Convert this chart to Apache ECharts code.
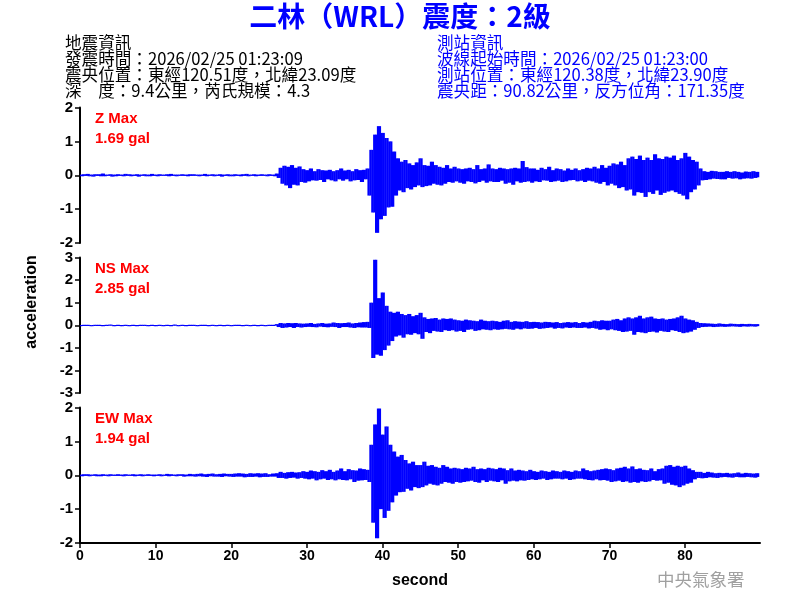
<!DOCTYPE html>
<html>
<head>
<meta charset="utf-8">
<script src="https://cdn.jsdelivr.net/npm/echarts@6/dist/echarts.min.js"></script>
<style>html,body{margin:0;padding:0;background:#fff;}#c{width:800px;height:600px;}</style>
</head>
<body>
<div id="c"></div>
<script>
// ---- data ----
const dt = 0.25; // seconds between samples
const xTicks = [0, 10, 20, 30, 40, 50, 60, 70, 80];
const componentNames = ['Z', 'NS', 'EW'];
const maxLabels = ['1.69 gal', '2.85 gal', '1.94 gal'];
const yRanges = [[-2, 2], [-3, 3], [-2, 2]];

const zTrace = [
0.02,-0.03,0.03,-0.02,0.04,-0.03,0.02,-0.04,0.03,-0.02,0.03,-0.03,0.05,-0.03,0.02,-0.02,0.03,-0.04,0.02,-0.03,
0.03,-0.02,0.02,-0.03,0.04,-0.02,0.03,-0.03,0.02,-0.02,0.03,-0.04,0.02,-0.02,0.03,-0.03,0.02,-0.03,0.04,-0.02,
0.02,-0.03,0.03,-0.02,0.02,-0.02,0.03,-0.03,0.04,-0.02,0.02,-0.03,0.02,-0.02,0.03,-0.02,0.02,-0.03,0.03,-0.02,
0.03,-0.02,0.02,-0.03,0.02,-0.02,0.04,-0.03,0.02,-0.02,0.03,-0.03,0.02,-0.02,0.03,-0.04,0.02,-0.02,0.03,-0.03,
0.02,-0.03,0.03,-0.02,0.02,-0.03,0.03,-0.02,0.04,-0.03,0.02,-0.02,0.03,-0.03,0.02,-0.02,0.03,-0.02,0.02,-0.03,
0.03,-0.02,0.02,-0.03,0.05,-0.08,0.22,-0.25,0.28,-0.3,0.25,-0.38,0.3,-0.28,0.22,-0.3,0.26,-0.2,0.18,-0.22,
0.15,-0.18,0.2,-0.15,0.12,-0.16,0.18,-0.14,0.15,-0.2,0.14,-0.12,0.16,-0.15,0.12,-0.18,0.15,-0.12,0.2,-0.16,
0.14,-0.12,0.16,-0.18,0.12,-0.15,0.18,-0.14,0.15,-0.2,0.16,-0.12,0.2,-0.6,0.75,-1.1,1.2,-1.7,1.45,-1.3,
1.25,-1.2,1.1,-0.95,1.0,-0.93,0.7,-0.6,0.5,-0.45,0.4,-0.5,0.45,-0.38,0.35,-0.42,0.3,-0.35,0.38,-0.3,
0.5,-0.35,0.3,-0.32,0.28,-0.3,0.4,-0.25,0.3,-0.28,0.25,-0.3,0.22,-0.25,0.3,-0.2,0.2,-0.22,0.25,-0.18,
0.2,-0.22,0.18,-0.25,0.2,-0.18,0.22,-0.2,0.18,-0.24,0.3,-0.2,0.18,-0.16,0.2,-0.22,0.32,-0.18,0.2,-0.2,
0.18,-0.2,0.22,-0.16,0.2,-0.25,0.18,-0.22,0.2,-0.28,0.22,-0.18,0.2,-0.22,0.42,-0.2,0.24,-0.18,0.2,-0.22,
0.2,-0.18,0.16,-0.2,0.22,-0.15,0.18,-0.16,0.25,-0.2,0.15,-0.18,0.2,-0.16,0.18,-0.2,0.14,-0.18,0.2,-0.15,
0.16,-0.14,0.2,-0.18,0.15,-0.16,0.18,-0.2,0.22,-0.16,0.2,-0.18,0.25,-0.22,0.2,-0.25,0.3,-0.2,0.22,-0.3,
0.28,-0.25,0.35,-0.3,0.32,-0.38,0.4,-0.35,0.3,-0.45,0.5,-0.42,0.55,-0.6,0.48,-0.5,0.58,-0.52,0.45,-0.64,
0.52,-0.5,0.45,-0.55,0.62,-0.45,0.5,-0.58,0.48,-0.52,0.55,-0.48,0.52,-0.45,0.58,-0.5,0.45,-0.55,0.5,-0.6,
0.66,-0.71,0.55,-0.5,0.45,-0.42,0.4,-0.3,0.2,-0.15,0.12,-0.14,0.1,-0.12,0.13,-0.1,0.12,-0.11,0.1,-0.12,
0.1,-0.12,0.12,-0.08,0.1,-0.1,0.12,-0.09,0.1,-0.12,0.08,-0.1,0.11,-0.09,0.1,-0.1,0.12,-0.08,0.1,-0.06
];

const nsTrace = [
0.01,-0.02,0.02,-0.01,0.02,-0.02,0.01,-0.02,0.02,-0.01,0.02,-0.02,0.01,-0.01,0.02,-0.02,0.03,-0.01,0.01,-0.02,
0.02,-0.01,0.01,-0.02,0.02,-0.02,0.01,-0.01,0.02,-0.03,0.01,-0.02,0.02,-0.01,0.02,-0.02,0.01,-0.02,0.02,-0.01,
0.01,-0.02,0.02,-0.01,0.01,-0.01,0.02,-0.02,0.01,-0.02,0.03,-0.01,0.01,-0.02,0.02,-0.01,0.01,-0.02,0.02,-0.02,
0.02,-0.01,0.01,-0.02,0.02,-0.01,0.02,-0.02,0.01,-0.01,0.02,-0.02,0.01,-0.02,0.02,-0.01,0.01,-0.02,0.02,-0.01,
0.01,-0.02,0.02,-0.01,0.02,-0.02,0.01,-0.02,0.02,-0.01,0.01,-0.02,0.02,-0.02,0.01,-0.01,0.02,-0.02,0.01,-0.02,
0.02,-0.01,0.02,-0.02,0.05,-0.08,0.1,-0.12,0.08,-0.1,0.1,-0.08,0.09,-0.12,0.1,-0.08,0.08,-0.1,0.07,-0.08,
0.08,-0.07,0.1,-0.08,0.06,-0.09,0.08,-0.06,0.1,-0.08,0.07,-0.09,0.08,-0.07,0.12,-0.08,0.1,-0.12,0.09,-0.08,
0.1,-0.08,0.12,-0.1,0.08,-0.12,0.1,-0.09,0.12,-0.1,0.14,-0.1,0.15,-0.12,1.0,-1.45,2.9,-1.3,1.2,-1.35,
1.45,-1.1,0.86,-0.9,0.6,-0.7,0.55,-0.5,0.6,-0.45,0.5,-0.55,0.45,-0.4,0.5,-0.42,0.4,-0.35,0.45,-0.4,
0.55,-0.6,0.35,-0.3,0.28,-0.35,0.3,-0.25,0.32,-0.28,0.25,-0.3,0.3,-0.22,0.28,-0.25,0.3,-0.22,0.25,-0.28,
0.22,-0.25,0.2,-0.3,0.25,-0.2,0.22,-0.18,0.2,-0.25,0.18,-0.22,0.25,-0.18,0.2,-0.2,0.18,-0.22,0.2,-0.18,
0.18,-0.2,0.15,-0.18,0.2,-0.16,0.22,-0.18,0.15,-0.2,0.18,-0.15,0.16,-0.18,0.15,-0.14,0.18,-0.16,0.14,-0.15,
0.15,-0.12,0.14,-0.16,0.12,-0.14,0.15,-0.12,0.14,-0.1,0.12,-0.15,0.14,-0.12,0.1,-0.14,0.12,-0.1,0.14,-0.12,
0.12,-0.1,0.14,-0.12,0.1,-0.12,0.14,-0.1,0.12,-0.14,0.15,-0.12,0.2,-0.15,0.18,-0.2,0.22,-0.18,0.2,-0.22,
0.2,-0.18,0.25,-0.22,0.28,-0.25,0.22,-0.3,0.3,-0.28,0.35,-0.25,0.3,-0.42,0.35,-0.3,0.42,-0.32,0.3,-0.35,
0.35,-0.3,0.38,-0.28,0.3,-0.32,0.28,-0.25,0.3,-0.28,0.25,-0.3,0.28,-0.22,0.3,-0.25,0.35,-0.3,0.42,-0.35,
0.3,-0.32,0.25,-0.28,0.22,-0.2,0.15,-0.12,0.1,-0.08,0.09,-0.07,0.08,-0.06,0.07,-0.08,0.06,-0.07,0.08,-0.06,
0.06,-0.07,0.05,-0.06,0.07,-0.05,0.06,-0.06,0.05,-0.07,0.06,-0.05,0.05,-0.06,0.06,-0.05,0.05,-0.06,0.05,-0.04
];

const ewTrace = [
0.02,-0.03,0.03,-0.02,0.03,-0.03,0.02,-0.02,0.03,-0.03,0.02,-0.03,0.03,-0.02,0.02,-0.03,0.03,-0.02,0.02,-0.02,
0.03,-0.02,0.02,-0.03,0.03,-0.02,0.02,-0.02,0.03,-0.03,0.02,-0.02,0.03,-0.03,0.02,-0.02,0.03,-0.02,0.02,-0.03,
0.02,-0.02,0.03,-0.03,0.02,-0.02,0.04,-0.03,0.03,-0.02,0.02,-0.03,0.03,-0.02,0.03,-0.04,0.02,-0.03,0.04,-0.03,
0.03,-0.04,0.04,-0.03,0.05,-0.04,0.03,-0.05,0.04,-0.03,0.05,-0.04,0.03,-0.04,0.04,-0.05,0.05,-0.03,0.04,-0.04,
0.04,-0.05,0.05,-0.04,0.06,-0.04,0.05,-0.06,0.04,-0.05,0.06,-0.05,0.05,-0.04,0.06,-0.06,0.05,-0.05,0.06,-0.05,
0.03,-0.04,0.05,-0.04,0.06,-0.08,0.1,-0.08,0.07,-0.1,0.09,-0.08,0.1,-0.07,0.08,-0.1,0.09,-0.08,0.12,-0.1,
0.1,-0.12,0.14,-0.1,0.12,-0.15,0.1,-0.12,0.15,-0.1,0.12,-0.14,0.16,-0.12,0.1,-0.15,0.14,-0.12,0.2,-0.14,
0.12,-0.15,0.18,-0.12,0.15,-0.2,0.14,-0.16,0.2,-0.15,0.18,-0.14,0.16,-0.2,0.9,-1.4,1.5,-1.86,1.97,-1.0,
1.2,-1.26,1.44,-1.05,0.9,-0.8,0.7,-0.6,0.55,-0.5,0.6,-0.49,0.45,-0.4,0.35,-0.45,0.4,-0.35,0.3,-0.38,
0.3,-0.35,0.4,-0.3,0.28,-0.25,0.3,-0.28,0.25,-0.3,0.22,-0.25,0.3,-0.2,0.25,-0.22,0.2,-0.25,0.22,-0.2,
0.2,-0.22,0.18,-0.2,0.22,-0.18,0.2,-0.16,0.25,-0.2,0.18,-0.22,0.2,-0.15,0.18,-0.2,0.22,-0.16,0.2,-0.18,
0.18,-0.2,0.22,-0.15,0.2,-0.25,0.15,-0.18,0.2,-0.16,0.14,-0.18,0.16,-0.15,0.14,-0.16,0.12,-0.14,0.16,-0.12,
0.12,-0.14,0.1,-0.12,0.14,-0.1,0.12,-0.14,0.1,-0.12,0.14,-0.1,0.12,-0.1,0.1,-0.12,0.14,-0.1,0.12,-0.14,
0.1,-0.12,0.14,-0.1,0.12,-0.1,0.2,-0.12,0.15,-0.14,0.12,-0.15,0.14,-0.12,0.16,-0.15,0.18,-0.14,0.2,-0.16,
0.18,-0.2,0.15,-0.18,0.2,-0.16,0.22,-0.2,0.25,-0.18,0.2,-0.22,0.26,-0.2,0.18,-0.22,0.2,-0.18,0.16,-0.2,
0.15,-0.18,0.2,-0.14,0.12,-0.16,0.18,-0.15,0.2,-0.25,0.28,-0.22,0.3,-0.28,0.25,-0.3,0.28,-0.35,0.25,-0.3,
0.28,-0.25,0.2,-0.22,0.15,-0.12,0.1,-0.08,0.1,-0.09,0.07,-0.08,0.1,-0.06,0.08,-0.07,0.06,-0.08,0.07,-0.06,
0.06,-0.05,0.07,-0.06,0.05,-0.07,0.06,-0.05,0.08,-0.06,0.05,-0.06,0.07,-0.05,0.06,-0.06,0.05,-0.07,0.06,-0.05
];

const traces = [zTrace, nsTrace, ewTrace];

const titleText = '二林（WRL）震度：2級';
const quakeInfo = ['地震資訊', '發震時間：2026/02/25 01:23:09', '震央位置：東經120.51度，北緯23.09度', '深　度：9.4公里，芮氏規模：4.3'];
const stationInfo = ['測站資訊', '波線起始時間：2026/02/25 01:23:00', '測站位置：東經120.38度，北緯23.90度', '震央距：90.82公里，反方位角：171.35度'];

// ---- chart ----
const CJK = '"Noto Sans CJK TC","Noto Sans CJK SC",sans-serif';
const LAT = '"Liberation Sans",Arial,sans-serif';
const gridTops = [107.5, 257.5, 407.5];
const gridH = 135.5;

const chart = echarts.init(document.getElementById('c'), null, {renderer: 'canvas'});

// each column spans the range between two consecutive samples
function renderColumn(params, api) {
  const t = api.value(0), a = api.value(1), b = api.value(2);
  const top = api.coord([t, Math.max(a, b)]);
  const bot = api.coord([t + dt, Math.min(a, b)]);
  return {
    type: 'rect',
    shape: {x: top[0], y: top[1], width: Math.max(bot[0] - top[0], 1) + 0.4, height: Math.max(bot[1] - top[1], 1.2)},
    style: {fill: '#0000ff'}
  };
}

const grids = [], xAxes = [], yAxes = [], series = [], titles = [];
for (let g = 0; g < 3; g++) {
  grids.push({left: 80, right: 40, top: gridTops[g], height: gridH});
  const last = g === 2;
  xAxes.push({
    type: 'value', gridIndex: g, min: 0, max: 89.9, interval: 10,
    axisLine: {show: last, onZero: false, lineStyle: {color: '#000', width: 2}},
    axisTick: {show: last, length: 5, lineStyle: {color: '#000', width: 1.5}},
    axisLabel: {show: last, color: '#000', fontFamily: LAT, fontWeight: 'bold', fontSize: 14, margin: 6, showMaxLabel: false},
    splitLine: {show: false},
    name: last ? 'second' : '', nameLocation: 'middle', nameGap: 30,
    nameTextStyle: {color: '#000', fontFamily: LAT, fontWeight: 'bold', fontSize: 16}
  });
  yAxes.push({
    type: 'value', gridIndex: g, min: yRanges[g][0], max: yRanges[g][1], interval: 1,
    axisLine: {show: true, onZero: false, lineStyle: {color: '#000', width: 2}},
    axisTick: {show: true, length: 5, lineStyle: {color: '#000', width: 1.5}},
    axisLabel: {color: '#000', fontFamily: LAT, fontWeight: 'bold', fontSize: 15, margin: 7},
    splitLine: {show: false}
  });
  const tr = traces[g];
  const cols = [];
  for (let i = 0; i < tr.length - 1; i++) cols.push([i * dt, tr[i], tr[i + 1]]);
  series.push({
    type: 'custom', xAxisIndex: g, yAxisIndex: g, animation: false,
    renderItem: renderColumn,
    encode: {x: 0, y: [1, 2]},
    data: cols
  });
  titles.push({
    text: componentNames[g] + ' Max\n' + maxLabels[g], left: 95, top: gridTops[g] + 1, padding: 0,
    textStyle: {color: '#ff0000', fontFamily: LAT, fontWeight: 'bold', fontSize: 15, lineHeight: 20}
  });
}

titles.push({
  text: titleText, left: 'center', top: 2, padding: 0,
  textStyle: {color: '#0000ff', fontFamily: CJK, fontWeight: 'bold', fontSize: 28}
});
titles.push({
  text: quakeInfo.join('\n'), left: 65, top: 35, padding: 0,
  textStyle: {color: '#000', fontFamily: CJK, fontWeight: 'normal', fontSize: 16.6, lineHeight: 16}
});
titles.push({
  text: stationInfo.join('\n'), left: 437, top: 35, padding: 0,
  textStyle: {color: '#0000ff', fontFamily: CJK, fontWeight: 'normal', fontSize: 16.6, lineHeight: 16}
});
titles.push({
  text: '中央氣象署', left: 657, top: 571, padding: 0,
  textStyle: {color: '#a0a0a0', fontFamily: CJK, fontWeight: 'normal', fontSize: 17.5}
});

chart.setOption({
  animation: false,
  backgroundColor: '#fff',
  title: titles,
  grid: grids,
  xAxis: xAxes,
  yAxis: yAxes,
  series: series,
  graphic: [{
    type: 'text', x: 32, y: 302, rotation: Math.PI / 2,
    style: {text: 'acceleration', fill: '#000', font: 'bold 16px "Liberation Sans", Arial, sans-serif', align: 'center', verticalAlign: 'middle'}
  }]
});
</script>
</body>
</html>
